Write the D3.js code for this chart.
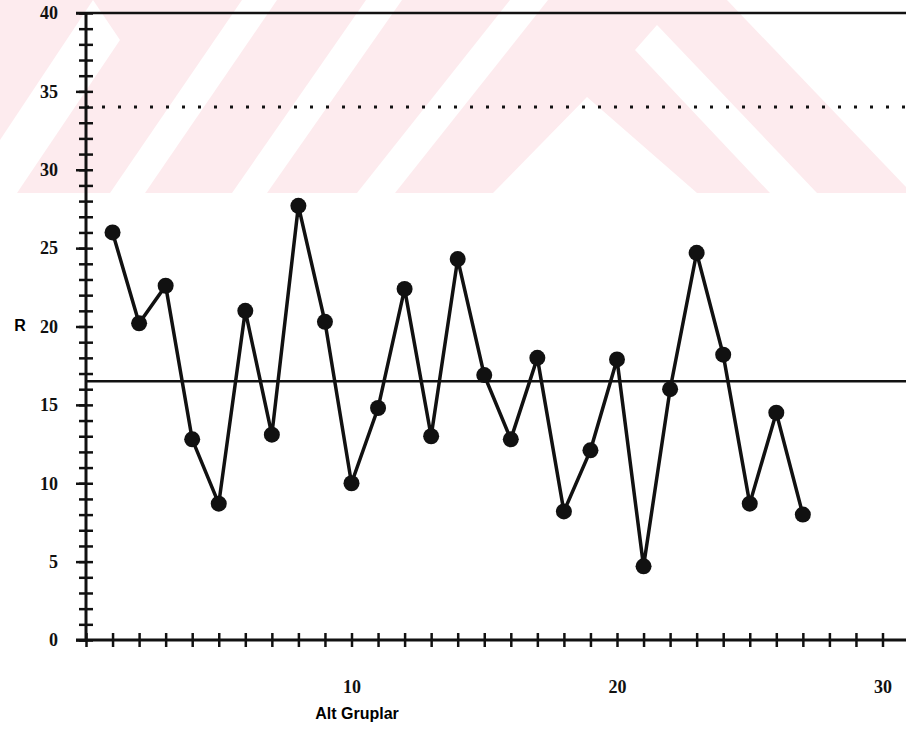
<!DOCTYPE html>
<html lang="en">
<head>
    <meta charset="UTF-8">
    <title>R chart</title>
    <style>
        body { margin: 0; background: #fff; }
        .tick text { font-family: "Liberation Serif", serif; font-weight: bold; font-size: 18px; fill: #111; }
        .axis path { display: none; }
        .axis line { stroke: #111; stroke-width: 2.5px; }
    </style>
</head>
<body>
<svg></svg>
<script src="https://d3js.org/d3.v7.min.js"></script>
<script>
    // sub-group number and range value
    var groups = d3.range(1, 28);
    var rValues = [26.0, 20.2, 22.6, 12.8, 8.7, 21.0, 13.1, 27.7, 20.3, 10.0,
        14.8, 22.4, 13.0, 24.3, 16.9, 12.8, 18.0, 8.2, 12.1, 17.9,
        4.7, 16.0, 24.7, 18.2, 8.7, 14.5, 8.0];
    var centerLine = 16.5;
    var upperLimit = 34;
    var yMajorTicks = [0, 5, 10, 15, 20, 25, 30, 35, 40];
    var xLabelTicks = [10, 20, 30];

    var width = 906;
    var height = 736;

    var x = d3.scaleLinear().domain([0, 31]).range([86, 86 + 31 * 26.55]);
    var y = d3.scaleLinear().domain([0, 40]).range([640, 13]);

    var svg = d3.select("svg")
        .attr("width", width)
        .attr("height", height);

    // faint watermark in the background
    var wm = svg.append("g");
    wm.append("clipPath").attr("id", "wmclip")
        .append("rect").attr("x", 0).attr("y", 0).attr("width", width).attr("height", 193);
    var wmg = wm.append("g").attr("clip-path", "url(#wmclip)");
    wmg.append("rect").attr("x", 0).attr("y", 0).attr("width", width).attr("height", 193)
        .style("fill", "#fdebee");
    var whiteShapes = [
        [[93, 0], [120, 40], [17, 193], [-20, 193], [-20, 170]],
        [[110, 193], [145, 193], [277, 0], [242, 0]],
        [[232, 193], [267, 193], [402, 0], [366, 0]],
        [[357, 193], [395, 193], [548, 0], [510, 0]],
        [[587, 97], [697, 193], [493, 193]],
        [[635, 50], [657, 25], [817, 193], [770, 193]],
        [[727, 0], [906, 0], [906, 187]]
    ];
    wmg.selectAll("polygon").data(whiteShapes).enter().append("polygon")
        .attr("points", function (d) { return d.join(" "); })
        .style("fill", "#fff");

    // frame top line at 40
    svg.append("line")
        .attr("x1", 76).attr("x2", width)
        .attr("y1", y(40)).attr("y2", y(40))
        .style("stroke", "#111").style("stroke-width", 2.5);

    // upper control limit (dotted)
    svg.append("line")
        .attr("x1", x(0)).attr("x2", width)
        .attr("y1", y(upperLimit)).attr("y2", y(upperLimit))
        .style("stroke", "#111").style("stroke-width", 3)
        .style("stroke-dasharray", "3,13");

    // center line
    svg.append("line")
        .attr("x1", x(0)).attr("x2", width)
        .attr("y1", y(centerLine)).attr("y2", y(centerLine))
        .style("stroke", "#111").style("stroke-width", 2.5);

    // y axis: crossing minor ticks, longer major ticks with labels
    svg.append("g").attr("class", "axis").attr("transform", "translate(" + x(0) + ",0)")
        .call(d3.axisLeft(y).tickValues(d3.range(0, 41)).tickSize(7).tickFormat(""));
    svg.append("g").attr("class", "axis").attr("transform", "translate(" + x(0) + ",0)")
        .call(d3.axisRight(y).tickValues(d3.range(0, 41)).tickSize(7).tickFormat(""));
    svg.append("g").attr("class", "axis").attr("transform", "translate(" + x(0) + ",0)")
        .call(d3.axisLeft(y).tickValues(yMajorTicks).tickSize(10).tickPadding(18).tickFormat(d3.format("d")));
    svg.append("line")
        .attr("x1", x(0)).attr("x2", x(0))
        .attr("y1", y(40)).attr("y2", y(0))
        .style("stroke", "#111").style("stroke-width", 3);

    // x axis
    svg.append("g").attr("class", "axis").attr("transform", "translate(0," + y(0) + ")")
        .call(d3.axisBottom(x).tickValues(d3.range(0, 31)).tickSize(7).tickFormat(""));
    svg.append("g").attr("class", "axis").attr("transform", "translate(0," + y(0) + ")")
        .call(d3.axisTop(x).tickValues(d3.range(0, 31)).tickSize(7).tickFormat(""));
    svg.append("g").attr("class", "axis").attr("transform", "translate(0," + y(0) + ")")
        .call(d3.axisBottom(x).tickValues(xLabelTicks).tickSize(0).tickPadding(40).tickFormat(d3.format("d")));
    svg.append("line")
        .attr("x1", 76).attr("x2", width)
        .attr("y1", y(0)).attr("y2", y(0))
        .style("stroke", "#111").style("stroke-width", 3);

    // range series
    var line = d3.line()
        .x(function (d, i) { return x(groups[i]); })
        .y(function (d) { return y(d); });
    svg.append("path")
        .datum(rValues)
        .attr("d", line)
        .style("fill", "none")
        .style("stroke", "#111")
        .style("stroke-width", 3.5);
    svg.selectAll("circle")
        .data(rValues)
        .enter().append("circle")
        .attr("cx", function (d, i) { return x(groups[i]); })
        .attr("cy", function (d) { return y(d); })
        .attr("r", 8)
        .style("fill", "#111");

    // axis titles
    svg.append("text")
        .attr("x", 20).attr("y", 331)
        .attr("text-anchor", "middle")
        .style("font-family", "Liberation Sans, Arial, sans-serif")
        .style("font-weight", "bold").style("font-size", "16px")
        .text("R");
    svg.append("text")
        .attr("x", 357).attr("y", 719)
        .attr("text-anchor", "middle")
        .style("font-family", "Liberation Sans, Arial, sans-serif")
        .style("font-weight", "bold").style("font-size", "16px")
        .text("Alt Gruplar");
</script>
</body>
</html>
